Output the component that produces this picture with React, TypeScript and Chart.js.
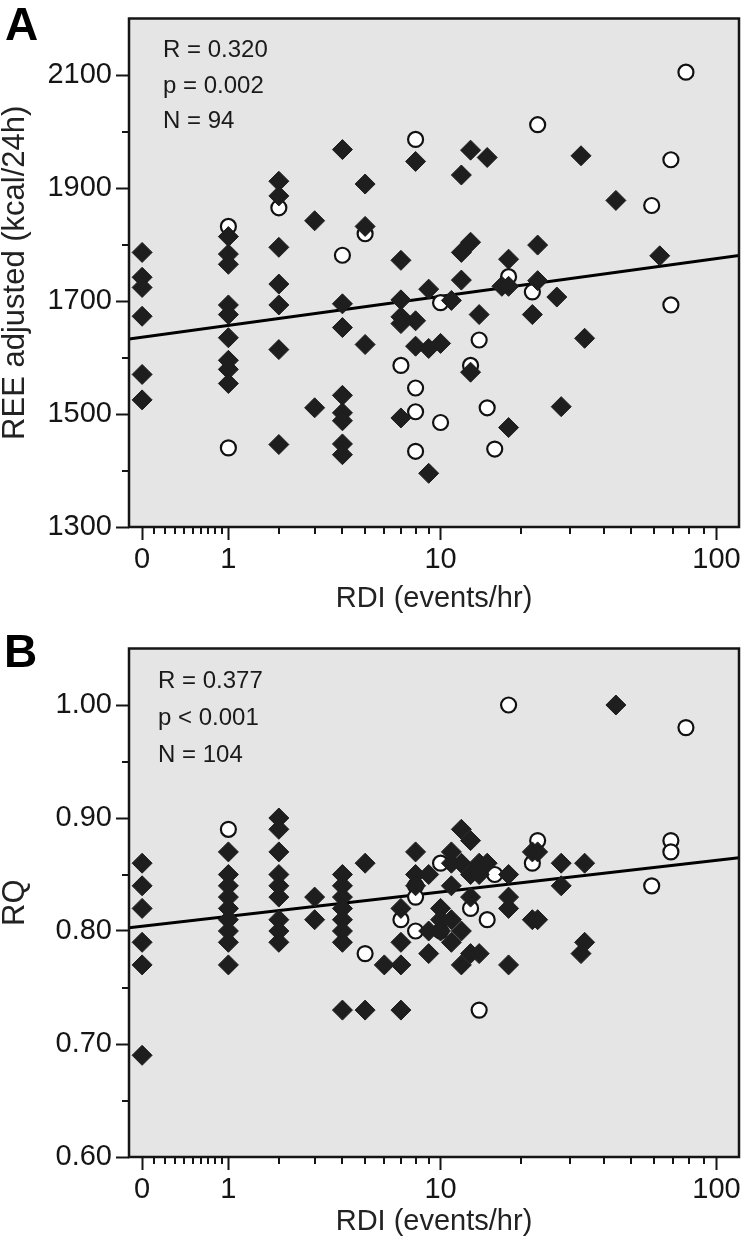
import React, { useEffect, useRef } from 'react';
import { Chart, registerables } from 'chart.js';

Chart.register(...registerables);

const FONT_FAMILY = '"Liberation Sans", Arial, Helvetica, sans-serif';
const INK = '#151515';
const PLOT_BG = '#e5e5e5';
const DIAMOND_FILL = '#1e1e1e';

// ---------- shared x axis (log10(RDI + 1) scale) ----------
const X_MIN_RDI = -0.1;
const X_MAX_RDI = 120;
const X_MAJOR_RDI = [0, 1, 10, 100];
const X_MAJOR_LABELS = ['0', '1', '10', '100'];
const X_MINOR_RDI = [0.1, 0.2, 0.3, 0.4, 0.5, 0.6, 0.7, 0.8, 0.9, 2, 3, 4, 5, 6, 7, 8, 9, 20, 30, 40, 50, 60, 70, 80, 90];
const X_TITLE = 'RDI (events/hr)';

// ---------- panel A : REE ----------
const A_LETTER = 'A';
const A_Y_TITLE = 'REE adjusted (kcal/24h)';
const A_Y_MIN = 1300;
const A_Y_MAX = 2200;
const A_Y_MAJOR = [1300, 1500, 1700, 1900, 2100];
const A_Y_LABELS = ['1300', '1500', '1700', '1900', '2100'];
const A_Y_MINOR = [1400, 1600, 1800, 2000];
const A_STATS = ['R = 0.320', 'p = 0.002', 'N = 94'];
const A_FIT_INTERCEPT = 1636;
const A_FIT_SLOPE = 69.3;
const A_DIAMOND_RDI = [
  0, 0, 0, 0, 0, 0,
  1, 1, 1, 1, 1, 1, 1, 1, 1,
  2, 2, 2, 2, 2, 2, 2,
  3, 3,
  4, 4, 4, 4, 4, 4, 4, 4,
  5, 5, 5,
  7, 7, 7, 7, 7,
  8, 8, 8,
  9, 9, 9,
  10, 11,
  12, 12, 12,
  13, 13, 13,
  14, 15, 17,
  18, 18, 18,
  22, 23, 23, 27, 28, 33, 34, 44, 63,
];
const A_DIAMOND_REE = [
  1786, 1742, 1724, 1673, 1570, 1525,
  1814, 1783, 1765, 1693, 1676, 1635, 1595, 1579, 1554,
  1912, 1886, 1795, 1730, 1693, 1614, 1446,
  1842, 1511,
  1968, 1695, 1653, 1533, 1502, 1488, 1447, 1428,
  1907, 1832, 1623,
  1772, 1702, 1672, 1660, 1493,
  1947, 1665, 1620,
  1721, 1616, 1395,
  1625, 1701,
  1923, 1786, 1737,
  1967, 1804, 1574,
  1676, 1954, 1726,
  1774, 1726, 1476,
  1676, 1799, 1736, 1707, 1513, 1957, 1634, 1878, 1780,
];
const A_CIRCLE_RDI = [1, 1, 2, 4, 5, 7, 8, 8, 8, 8, 10, 10, 13, 14, 15, 16, 18, 22, 23, 59, 69, 69, 78];
const A_CIRCLE_REE = [1832, 1440, 1865, 1781, 1819, 1586, 1986, 1546, 1504, 1434, 1697, 1485, 1586, 1631, 1511, 1438, 1743, 1716, 2012, 1869, 1950, 1693, 2105];

// ---------- panel B : RQ ----------
const B_LETTER = 'B';
const B_Y_TITLE = 'RQ';
const B_Y_MIN = 0.6;
const B_Y_MAX = 1.05;
const B_Y_MAJOR = [0.6, 0.7, 0.8, 0.9, 1.0];
const B_Y_LABELS = ['0.60', '0.70', '0.80', '0.90', '1.00'];
const B_Y_MINOR = [0.65, 0.75, 0.85, 0.95];
const B_STATS = ['R = 0.377', 'p < 0.001', 'N = 104'];
const B_FIT_INTERCEPT = 0.8043;
const B_FIT_SLOPE = 0.0291;
const B_DIAMOND_RDI = [
  0, 0, 0, 0, 0, 0,
  1, 1, 1, 1, 1, 1, 1, 1, 1,
  2, 2, 2, 2, 2, 2, 2, 2, 2,
  3, 3,
  4, 4, 4, 4, 4, 4, 4, 4,
  5, 5, 6,
  7, 7, 7, 7,
  8, 8, 8,
  9, 9, 9,
  10, 10, 10,
  11, 11, 11, 11, 11,
  12, 12, 12, 12,
  13, 13, 13, 13,
  14, 14, 14,
  15,
  18, 18, 18, 18,
  22, 22, 23, 23, 28, 28, 33, 34, 34, 44,
];
const B_DIAMOND_RQ = [
  0.86, 0.84, 0.82, 0.79, 0.77, 0.69,
  0.87, 0.85, 0.84, 0.83, 0.82, 0.81, 0.80, 0.79, 0.77,
  0.90, 0.89, 0.87, 0.85, 0.84, 0.83, 0.81, 0.80, 0.79,
  0.83, 0.81,
  0.85, 0.84, 0.83, 0.82, 0.81, 0.80, 0.79, 0.73,
  0.86, 0.73, 0.77,
  0.82, 0.79, 0.77, 0.73,
  0.87, 0.85, 0.84,
  0.85, 0.80, 0.78,
  0.82, 0.81, 0.80,
  0.87, 0.86, 0.84, 0.81, 0.79,
  0.89, 0.86, 0.80, 0.77,
  0.88, 0.85, 0.83, 0.78,
  0.86, 0.85, 0.78,
  0.86,
  0.85, 0.83, 0.82, 0.77,
  0.87, 0.81, 0.87, 0.81, 0.86, 0.84, 0.78, 0.86, 0.79, 1.00,
];
const B_CIRCLE_RDI = [1, 5, 7, 8, 8, 8, 10, 10, 13, 14, 15, 16, 18, 22, 23, 59, 69, 69, 78];
const B_CIRCLE_RQ = [0.89, 0.78, 0.81, 0.84, 0.83, 0.80, 0.86, 0.80, 0.82, 0.73, 0.81, 0.85, 1.00, 0.86, 0.88, 0.84, 0.88, 0.87, 0.98];

const toT = (rdi: number) => Math.log10(rdi + 1);

type Panel = {
  letter: string;
  yTitle: string;
  yMin: number;
  yMax: number;
  yMajor: number[];
  yLabels: string[];
  yMinor: number[];
  stats: string[];
  fitIntercept: number;
  fitSlope: number;
  diamondRdi: number[];
  diamondVal: number[];
  circleRdi: number[];
  circleVal: number[];
  layout: {
    height: number;
    xAxisHeight: number;
    xTitlePadBottom: number;
    letterX: number;
    letterY: number;
    statsX: number;
    statsY: number[];
  };
};

const PANEL_A: Panel = {
  letter: A_LETTER,
  yTitle: A_Y_TITLE,
  yMin: A_Y_MIN,
  yMax: A_Y_MAX,
  yMajor: A_Y_MAJOR,
  yLabels: A_Y_LABELS,
  yMinor: A_Y_MINOR,
  stats: A_STATS,
  fitIntercept: A_FIT_INTERCEPT,
  fitSlope: A_FIT_SLOPE,
  diamondRdi: A_DIAMOND_RDI,
  diamondVal: A_DIAMOND_REE,
  circleRdi: A_CIRCLE_RDI,
  circleVal: A_CIRCLE_REE,
  layout: { height: 630, xAxisHeight: 103, xTitlePadBottom: 17, letterX: 5, letterY: 40, statsX: 163, statsY: [57, 93, 128] },
};

const PANEL_B: Panel = {
  letter: B_LETTER,
  yTitle: B_Y_TITLE,
  yMin: B_Y_MIN,
  yMax: B_Y_MAX,
  yMajor: B_Y_MAJOR,
  yLabels: B_Y_LABELS,
  yMinor: B_Y_MINOR,
  stats: B_STATS,
  fitIntercept: B_FIT_INTERCEPT,
  fitSlope: B_FIT_SLOPE,
  diamondRdi: B_DIAMOND_RDI,
  diamondVal: B_DIAMOND_RQ,
  circleRdi: B_CIRCLE_RDI,
  circleVal: B_CIRCLE_RQ,
  layout: { height: 615, xAxisHeight: 88, xTitlePadBottom: 9, letterX: 4, letterY: 37, statsX: 158, statsY: [58, 95, 132] },
};

function buildConfig(panel: Panel): any {
  const tMin = toT(X_MIN_RDI);
  const tMax = toT(X_MAX_RDI);
  const L = panel.layout;

  const decor = {
    id: 'decor',
    beforeDraw(chart: any) {
      const { ctx, chartArea: a } = chart;
      ctx.save();
      ctx.fillStyle = PLOT_BG;
      ctx.fillRect(a.left, a.top, a.right - a.left, a.bottom - a.top);
      ctx.restore();
    },
    afterDraw(chart: any) {
      const { ctx, chartArea: a, scales } = chart;
      ctx.save();
      ctx.strokeStyle = INK;
      ctx.lineWidth = 2;
      ctx.beginPath();
      for (const r of X_MINOR_RDI) {
        const px = Math.round(scales.x.getPixelForValue(toT(r)));
        ctx.moveTo(px, a.bottom);
        ctx.lineTo(px, a.bottom + 7);
      }
      for (const v of panel.yMinor) {
        const py = Math.round(scales.y.getPixelForValue(v));
        ctx.moveTo(a.left - 7, py);
        ctx.lineTo(a.left, py);
      }
      ctx.stroke();
      ctx.lineWidth = 2.5;
      ctx.strokeRect(a.left, a.top, a.right - a.left, a.bottom - a.top);

      ctx.fillStyle = '#1a1a1a';
      ctx.textAlign = 'left';
      ctx.textBaseline = 'alphabetic';
      ctx.font = `24px ${FONT_FAMILY}`;
      panel.stats.forEach((s, i) => ctx.fillText(s, L.statsX, L.statsY[i]));

      ctx.fillStyle = '#000';
      ctx.font = `bold 46px ${FONT_FAMILY}`;
      ctx.fillText(panel.letter, L.letterX, L.letterY);
      ctx.restore();
    },
  };

  return {
    type: 'scatter',
    data: {
      datasets: [
        {
          label: 'diamonds',
          data: panel.diamondRdi.map((r, i) => ({ x: toT(r), y: panel.diamondVal[i] })),
          pointStyle: 'rectRot',
          pointRadius: 10,
          backgroundColor: DIAMOND_FILL,
          borderColor: DIAMOND_FILL,
          borderWidth: 1,
        },
        {
          label: 'circles',
          data: panel.circleRdi.map((r, i) => ({ x: toT(r), y: panel.circleVal[i] })),
          pointStyle: 'circle',
          pointRadius: 7.5,
          backgroundColor: '#ffffff',
          borderColor: '#111111',
          borderWidth: 2.2,
        },
        {
          label: 'fit',
          type: 'line',
          data: [tMin, tMax].map((t) => ({ x: t, y: panel.fitIntercept + panel.fitSlope * t })),
          borderColor: '#000000',
          borderWidth: 3,
          pointRadius: 0,
          showLine: true,
          fill: false,
        },
      ],
    },
    options: {
      responsive: false,
      animation: false,
      devicePixelRatio: 1,
      events: [],
      layout: { padding: { top: 15, right: 5, bottom: 0, left: 0 } },
      plugins: { legend: { display: false }, tooltip: { enabled: false } },
      scales: {
        x: {
          type: 'linear',
          min: tMin,
          max: tMax,
          afterBuildTicks: (s: any) => {
            s.ticks = X_MAJOR_RDI.map((v) => ({ value: toT(v) }));
          },
          afterFit: (s: any) => {
            s.height = L.xAxisHeight;
          },
          ticks: {
            autoSkip: false,
            maxRotation: 0,
            callback: (_v: any, i: number) => X_MAJOR_LABELS[i],
            font: { family: FONT_FAMILY, size: 29, lineHeight: 1 },
            color: INK,
            padding: 5,
          },
          grid: { display: true, drawOnChartArea: false, drawTicks: true, tickLength: 13, tickWidth: 2, tickColor: INK },
          border: { display: false },
          title: {
            display: true,
            text: X_TITLE,
            font: { family: FONT_FAMILY, size: 29, lineHeight: 1 },
            color: '#222',
            padding: { top: 0, bottom: L.xTitlePadBottom },
          },
        },
        y: {
          type: 'linear',
          min: panel.yMin,
          max: panel.yMax,
          afterBuildTicks: (s: any) => {
            s.ticks = panel.yMajor.map((v) => ({ value: v }));
          },
          afterFit: (s: any) => {
            s.width = 129;
          },
          ticks: {
            callback: (_v: any, i: number) => panel.yLabels[i],
            font: { family: FONT_FAMILY, size: 29, lineHeight: 1 },
            color: INK,
            padding: 4,
          },
          grid: { display: true, drawOnChartArea: false, drawTicks: true, tickLength: 13, tickWidth: 2, tickColor: INK },
          border: { display: false },
          title: {
            display: true,
            text: panel.yTitle,
            font: { family: FONT_FAMILY, size: 31, lineHeight: 1 },
            color: '#222',
            padding: { top: 0, bottom: 0 },
          },
        },
      },
    },
    plugins: [decor],
  };
}

function ChartPanel({ panel }: { panel: Panel }) {
  const ref = useRef<HTMLCanvasElement | null>(null);
  useEffect(() => {
    if (!ref.current) return;
    const chart = new Chart(ref.current, buildConfig(panel));
    return () => chart.destroy();
  }, [panel]);
  return (
    <canvas
      ref={ref}
      width={750}
      height={panel.layout.height}
      style={{ display: 'block', width: 750, height: panel.layout.height }}
    />
  );
}

export default function App() {
  useEffect(() => {
    document.body.style.margin = '0';
  }, []);
  return (
    <div style={{ width: 750, background: '#ffffff' }}>
      <ChartPanel panel={PANEL_A} />
      <ChartPanel panel={PANEL_B} />
    </div>
  );
}
